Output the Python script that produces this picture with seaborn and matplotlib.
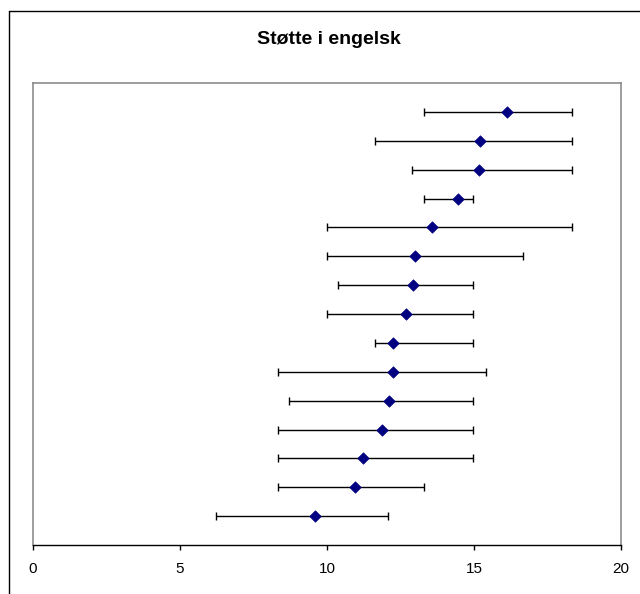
import numpy as np
import pandas as pd
import matplotlib
matplotlib.use("Agg")
import matplotlib.pyplot as plt
import seaborn as sns
from matplotlib.lines import Line2D

# Data, top row first
mean = [16.12, 15.2, 15.16, 14.45, 13.57, 13.0, 12.91, 12.7, 12.24, 12.24, 12.12, 11.88, 11.22, 10.96, 9.6]
low = [13.31, 11.63, 12.9, 13.31, 10.0, 10.0, 10.39, 10.0, 11.63, 8.33, 8.72, 8.33, 8.33, 8.33, 6.21]
high = [18.32, 18.32, 18.32, 14.97, 18.32, 16.65, 14.97, 14.97, 14.97, 15.42, 14.97, 14.97, 14.97, 13.31, 12.07]
x_ticks = [0, 5, 10, 15, 20]

df = pd.DataFrame({"mean": mean, "low": low, "high": high})
df["pos"] = len(df) - np.arange(len(df))

sns.set_style("white")
plt.rcParams["font.family"] = ["Liberation Sans", "DejaVu Sans"]

fig = plt.figure(figsize=(6.4, 5.94), dpi=100)
# plot area: x 33..621 px, y 83..545 px
ax = fig.add_axes([33 / 640, 49 / 594, 588 / 640, 462 / 594])

# outer chart border: only its left and top edges are inside the picture
x0, y0 = 8.5 / 640, 1 - 10.5 / 594
fig.lines.append(Line2D([x0, x0], [0, y0], transform=fig.transFigure, color="black", lw=1.0))
fig.lines.append(Line2D([x0, 1], [y0, y0], transform=fig.transFigure, color="black", lw=1.0))

ax.errorbar(df["mean"], df["pos"],
            xerr=[df["mean"] - df["low"], df["high"] - df["mean"]],
            fmt="none", ecolor="black", elinewidth=1.0, capsize=3, capthick=1.0)

sns.scatterplot(data=df, x="mean", y="pos", marker="D", s=34,
                color="#000080", edgecolor="#000080", linewidth=0.5, ax=ax, zorder=3)

ax.set_xlim(0, 20)
ax.set_ylim(0, 16)
ax.set_xticks(x_ticks)
ax.set_yticks([])
ax.set_xlabel("")
ax.set_ylabel("")

for side in ["left", "top", "right"]:
    ax.spines[side].set_color("#8c8c8c")
    ax.spines[side].set_linewidth(1.2)
ax.spines["bottom"].set_color("black")
ax.spines["bottom"].set_linewidth(1.0)

ax.tick_params(axis="x", direction="out", length=3.5, width=1, color="black",
               labelcolor="black", labelsize=11, pad=8.5, bottom=True)

fig.text(328.5 / 640, 1 - 44 / 594, "Støtte i engelsk",
         ha="center", va="baseline", fontsize=14, fontweight="bold", color="black")

fig.savefig("out.png", dpi=100)
